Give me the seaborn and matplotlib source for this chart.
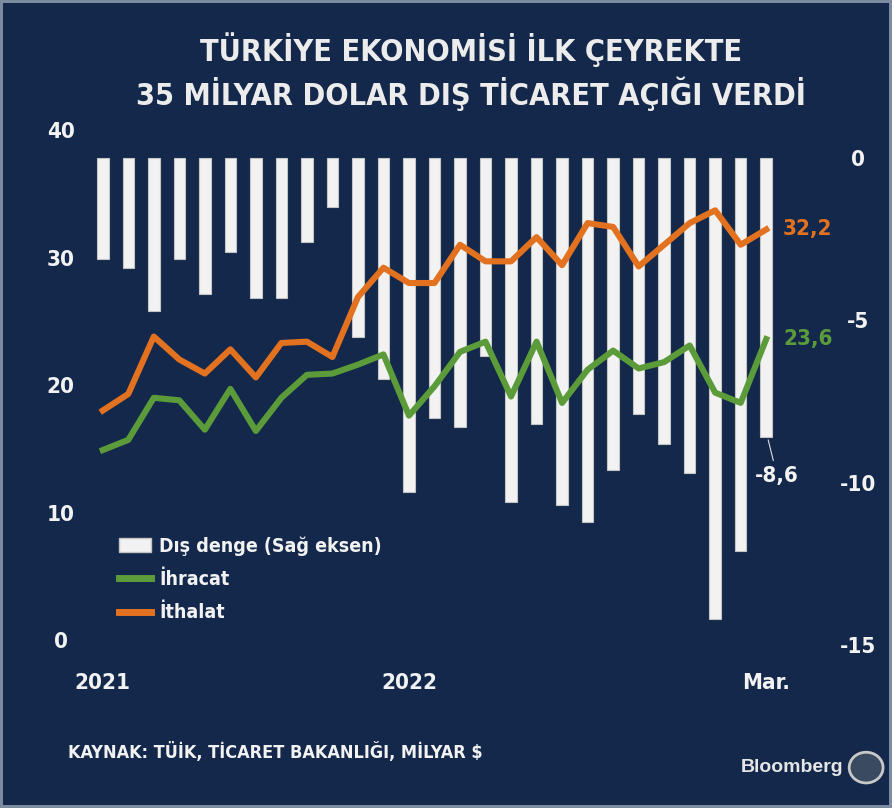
import seaborn as sns
import matplotlib.pyplot as plt
import pandas as pd
from matplotlib.patches import Patch, Circle
from matplotlib.lines import Line2D

# Aylık veriler (milyar $), Ocak 2021 - Mart 2023
aylar = [f'{y}-{m:02d}' for y in (2021, 2022, 2023) for m in range(1, 13)][:27]
ihracat = [14.9, 15.7, 19.0, 18.8, 16.5, 19.7, 16.4, 19.0, 20.8, 20.9, 21.6, 22.4, 17.6, 19.9,
           22.6, 23.4, 19.1, 23.4, 18.6, 21.2, 22.7, 21.3, 21.8, 23.1, 19.4, 18.6, 23.6]
ithalat = [18.0, 19.3, 23.8, 22.0, 20.9, 22.8, 20.6, 23.3, 23.4, 22.2, 26.9, 29.2, 28.0, 28.0,
           31.0, 29.7, 29.7, 31.6, 29.4, 32.7, 32.4, 29.3, 31.0, 32.7, 33.7, 31.0, 32.2]
dis_denge = [-3.1, -3.4, -4.7, -3.1, -4.2, -2.9, -4.3, -4.3, -2.6, -1.5, -5.5, -6.8, -10.3, -8.0,
             -8.3, -6.1, -10.6, -8.2, -10.7, -11.2, -9.6, -7.9, -8.8, -9.7, -14.2, -12.1, -8.6]
x_etiketleri = ['2021', '2022', 'Mar.']

df = pd.DataFrame({'ay': aylar, 'ihracat': ihracat, 'ithalat': ithalat, 'denge': dis_denge})
df['i'] = range(len(df))

bg = '#13284a'
orange = '#e2721f'
green = '#5c9b3a'
white = '#f2f2f2'

plt.rcParams['font.family'] = ['DejaVu Sans']
plt.rcParams['font.stretch'] = 'condensed'
plt.rcParams['font.weight'] = 'bold'

fig = plt.figure(figsize=(8.92, 8.08), dpi=100, facecolor=bg)
fig.patch.set_edgecolor('#7d8ba0')
fig.patch.set_linewidth(3)
ax = fig.add_axes([0.1009, 0.2017, 0.7724, 0.6374])
ax2 = ax.twinx()

# bars on the right axis, behind the lines
sns.barplot(data=df, x='i', y='denge', ax=ax2, color=white, width=0.45,
            edgecolor='#c4c4c4', linewidth=0.8, saturation=1)
ax2.set_ylim(-14.98, 0.86)
ax2.set_yticks([0, -5, -10, -15])
ax2.set_yticklabels(['0', '-5', '-10', '-15'])

sns.lineplot(data=df, x='i', y='ithalat', ax=ax, color=orange, lw=4.4)
sns.lineplot(data=df, x='i', y='ihracat', ax=ax, color=green, lw=4.4)
ax.set_ylim(-0.39, 40)
ax.set_yticks([0, 10, 20, 30, 40])
ax.set_xlim(-0.5, 26.5)
ax2.set_xlim(-0.5, 26.5)
ax.set_xticks([0, 12, 26])
ax.set_xticklabels(x_etiketleri)

ax.set_zorder(2)
ax2.set_zorder(1)
ax.patch.set_visible(False)
ax2.set_facecolor(bg)
for a in (ax, ax2):
    for s in a.spines.values():
        s.set_visible(False)
    a.set_xlabel('')
    a.set_ylabel('')

ax.tick_params(axis='y', length=0, pad=21, labelsize=16, labelcolor=white)
ax.tick_params(axis='x', length=0, pad=20, labelsize=16, labelcolor=white)
ax2.tick_params(axis='y', length=0, pad=57, labelsize=16, labelcolor=white)
for t in ax.get_yticklabels():
    t.set_horizontalalignment('center')
for t in ax2.get_yticklabels():
    t.set_horizontalalignment('center')

# son değer etiketleri
ax.annotate('32,2', xy=(26, ithalat[-1]), xytext=(12, 0), textcoords='offset points',
            ha='left', va='center', color=orange, fontsize=16)
ax.annotate('23,6', xy=(26, ihracat[-1]), xytext=(12, 0), textcoords='offset points',
            ha='left', va='center', color=green, fontsize=16)
ax2.annotate('-8,6', xy=(26.05, dis_denge[-1]), xytext=(7, -28), textcoords='offset points',
             ha='center', va='center', color=white, fontsize=16,
             arrowprops=dict(arrowstyle='-', color='#dddddd', lw=0.8, shrinkA=2, shrinkB=2))

handles = [Patch(facecolor=white, edgecolor='#c4c4c4'),
           Line2D([], [], color=green, lw=5),
           Line2D([], [], color=orange, lw=5)]
leg = ax.legend(handles, ['Dış denge (Sağ eksen)', 'İhracat', 'İthalat'],
                loc='upper left', bbox_to_anchor=(0.123, 0.348), bbox_transform=fig.transFigure,
                frameon=False, fontsize=14, labelcolor=white, borderpad=0,
                labelspacing=0.73, handlelength=1.6, handletextpad=0.45, handleheight=0.7)

fig.text(0.528, 0.938, 'TÜRKİYE EKONOMİSİ İLK ÇEYREKTE', ha='center', va='center',
         color='#ececec', fontsize=22)
fig.text(0.528, 0.884, '35 MİLYAR DOLAR DIŞ TİCARET AÇIĞI VERDİ', ha='center', va='center',
         color='#ececec', fontsize=22)
fig.text(0.076, 0.069, 'KAYNAK: TÜİK, TİCARET BAKANLIĞI, MİLYAR $', ha='left', va='center',
         color=white, fontsize=13)
fig.text(0.945, 0.05, 'Bloomberg', ha='right', va='center', color='#e6e6e6',
         fontsize=14, family='Liberation Sans', stretch='condensed')
fig.patches.append(Circle((0.971, 0.05), 0.019, transform=fig.transFigure,
                          facecolor='#3a4a60', edgecolor='#c8c8c8', lw=2))

plt.savefig('out.png', dpi=100, facecolor=bg, edgecolor=fig.patch.get_edgecolor())
